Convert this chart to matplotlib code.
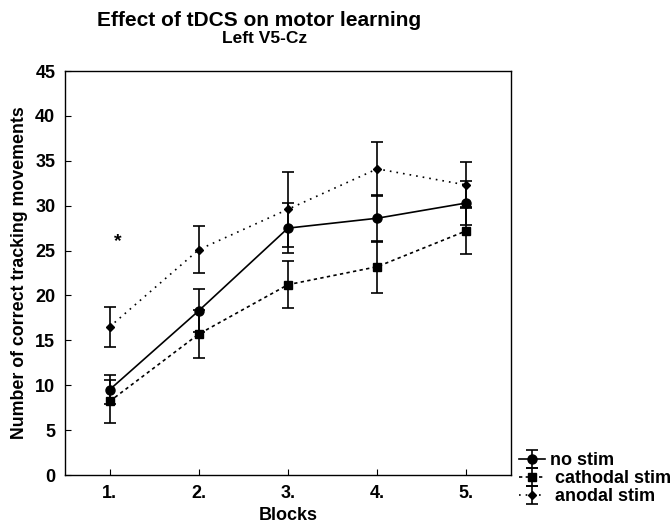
import matplotlib
matplotlib.use("Agg")
import matplotlib.pyplot as plt

plt.rcParams["font.family"] = ["Liberation Sans", "DejaVu Sans"]
plt.rcParams["font.weight"] = "bold"

blocks = [1, 2, 3, 4, 5]
block_labels = ["1.", "2.", "3.", "4.", "5."]

no_stim = [9.5, 18.3, 27.5, 28.6, 30.3]
no_stim_err = [1.6, 2.4, 2.8, 2.6, 2.4]

cathodal = [8.2, 15.7, 21.2, 23.2, 27.2]
cathodal_err = [2.4, 2.7, 2.6, 2.9, 2.6]

anodal = [16.5, 25.1, 29.6, 34.1, 32.3]
anodal_err = [2.2, 2.6, 4.2, 3.0, 2.6]

fig = plt.figure(figsize=(6.72, 5.25), dpi=100)
ax = fig.add_axes([65 / 672, 50 / 525, 446 / 672, 404 / 525])

common = dict(color="black", ecolor="black", elinewidth=1.2, capsize=4, capthick=1.2, lw=1.2)
ax.errorbar(blocks, no_stim, yerr=no_stim_err, marker="o", ms=6.5,
            linestyle="-", label="no stim", **common)
ax.errorbar(blocks, cathodal, yerr=cathodal_err, marker="s", ms=5.5,
            linestyle=(0, (2, 2)), label=" cathodal stim", **common)
ax.errorbar(blocks, anodal, yerr=anodal_err, marker="D", ms=4,
            linestyle=(0, (1, 3)), label=" anodal stim", **common)

ax.text(1.09, 26.0, "*", fontsize=14, ha="center", va="center")

ax.set_xlim(0.5, 5.5)
ax.set_ylim(0, 45)
ax.set_xticks(blocks)
ax.set_xticklabels(block_labels)
ax.set_yticks(range(0, 46, 5))
ax.tick_params(direction="in", length=4, labelsize=13, pad=7)
for s in ax.spines.values():
    s.set_linewidth(1.0)

ax.set_xlabel("Blocks", fontsize=13, fontweight="bold", labelpad=4)
ax.set_ylabel("Number of correct tracking movements", fontsize=12.8, fontweight="bold", labelpad=5)

fig.text(259 / 672, 1 - 21 / 525, "Effect of tDCS on motor learning",
         fontsize=15, fontweight="bold", ha="center", va="center")
fig.text(265 / 672, 1 - 38.5 / 525, "Left V5-Cz",
         fontsize=12.5, fontweight="bold", ha="center", va="center")

fig.legend(loc="upper left", bbox_to_anchor=(512 / 672, 1 - 445 / 525),
           frameon=False, fontsize=13, handlelength=1.4, handletextpad=0.3,
           labelspacing=0.05, borderaxespad=0)

fig.savefig("out.png", dpi=100)
